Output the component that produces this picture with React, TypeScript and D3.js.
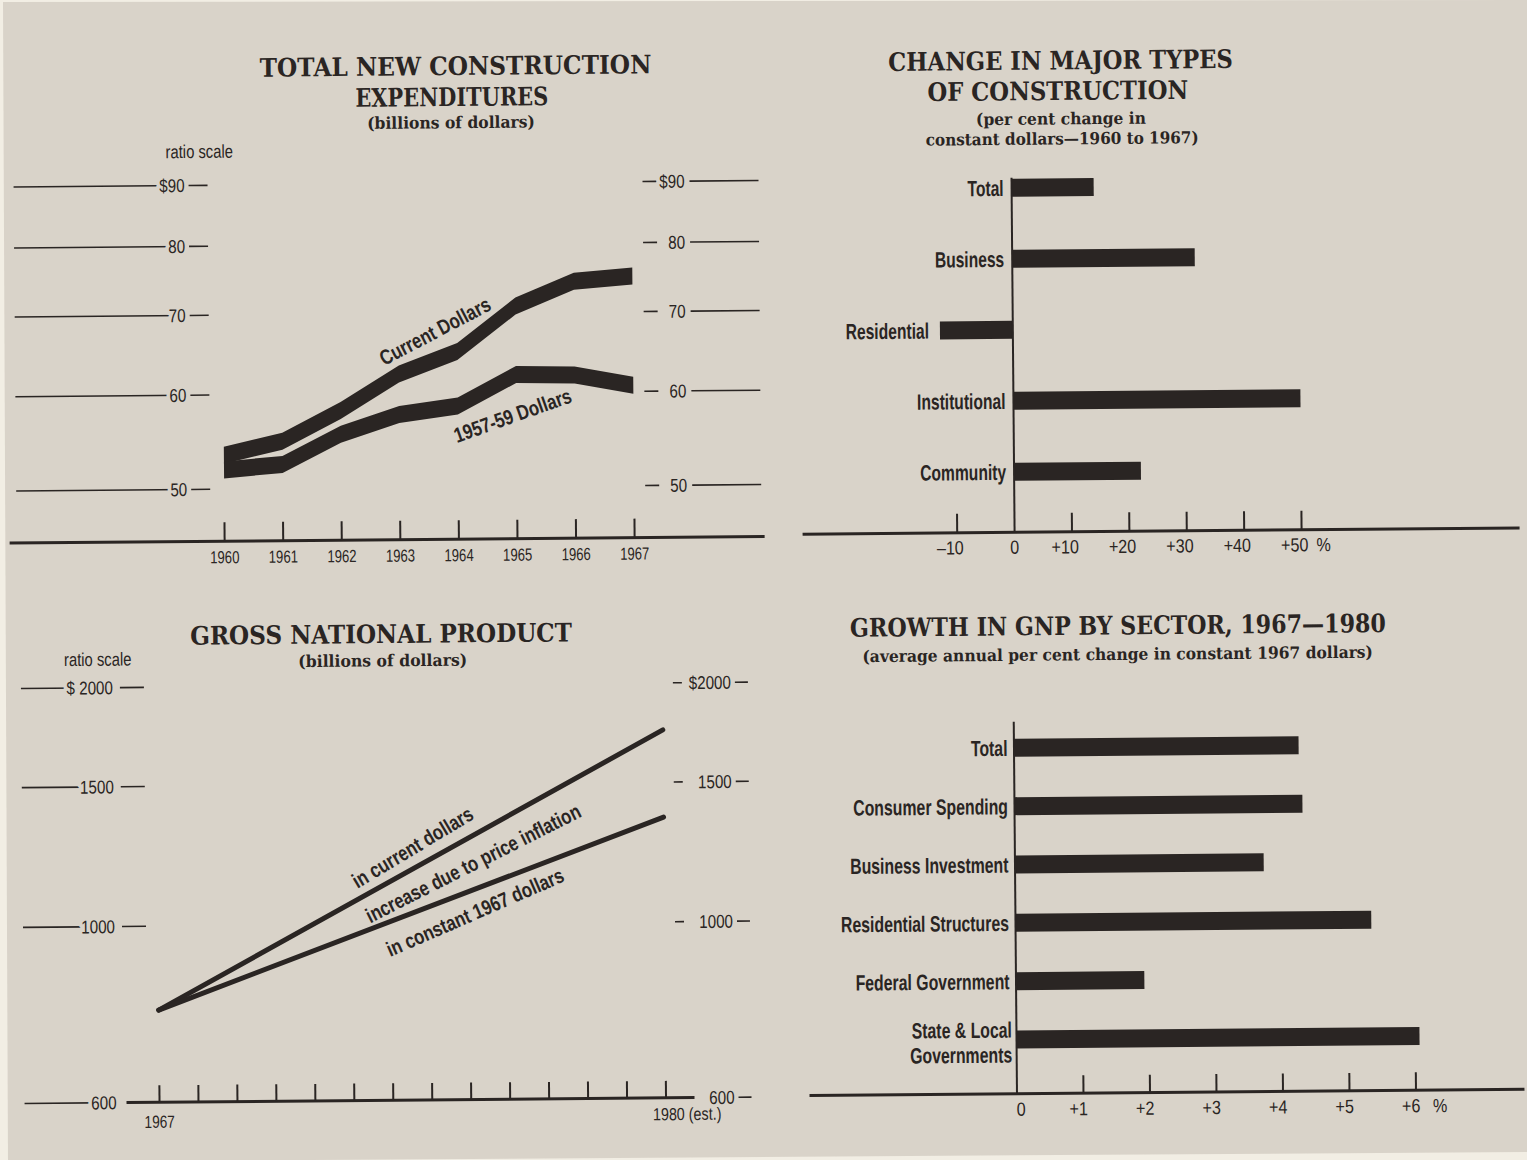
import React, { useLayoutEffect, useRef, useState } from 'react';
import * as d3 from 'd3';

// ---------- data ----------
// Panel 1: total new construction expenditures (billions, ratio scale)
const constructionYears = [1960, 1961, 1962, 1963, 1964, 1965, 1966, 1967];
const currentDollars = [53.4, 54.8, 58.1, 62.3, 65.0, 70.9, 74.3, 75.0];
const constantDollars = [51.9, 52.4, 55.5, 57.6, 58.5, 62.1, 62.0, 60.7];
const constructionTicks = [50, 60, 70, 80, 90];
const constructionTickLabels = ['50', '60', '70', '80', '$90'];

// Panel 2: change in major types of construction (%)
const typeCategories = ['Total', 'Business', 'Residential', 'Institutional', 'Community'];
const typeChanges = [14.3, 31.8, -12.7, 50.0, 22.1];
const typeTicks = [-10, 0, 10, 20, 30, 40, 50];
const typeTickLabels = ['\u201310', '0', '+10', '+20', '+30', '+40', '+50'];

// Panel 3: gross national product (billions, ratio scale)
const gnpYears = [1967, 1980];
const gnpCurrent = [784, 1745];
const gnpConstant = [784, 1355];
const gnpTicks = [600, 1000, 1500, 2000];
const gnpLeftLabels = ['600', '1000', '1500', '$ 2000'];
const gnpRightLabels = ['600', '1000', '1500', '$2000'];
const gnpTickYears = [1967, 1968, 1969, 1970, 1971, 1972, 1973, 1974, 1975, 1976, 1977, 1978, 1979, 1980];

// Panel 4: growth in GNP by sector 1967-1980 (% per year)
const sectorCategories = ['Total', 'Consumer Spending', 'Business Investment', 'Residential Structures', 'Federal Government', 'State & Local|Governments'];
const sectorGrowth = [4.28, 4.33, 3.74, 5.35, 1.93, 6.06];
const sectorTicks = [0, 1, 2, 3, 4, 5, 6];
const sectorTickLabels = ['0', '+1', '+2', '+3', '+4', '+5', '+6'];

// ---------- style ----------
const W = 1527;
const H = 1160;
const BG = '#d9d3c9';
const PAPER = '#f2eee4';
const INK = '#2a2523';
const SANS = '"Liberation Sans", Arial, sans-serif';
const SERIF = '"DejaVu Serif", "Liberation Serif", serif';
const TITLE = 25.5;
const SUB = 16.5;

type CTProps = {
  x: number; y: number; size: number; sx?: number; anchor?: string; weight?: string | number;
  rotate?: number; halo?: boolean; dy?: string; children: React.ReactNode;
};
function CText({ x, y, size, sx = 0.75, anchor = 'start', weight = 'normal', rotate = 0, halo = false, dy, children }: CTProps) {
  return (
    <g transform={`translate(${x},${y}) rotate(${rotate}) scale(${sx},1)`}>
      <text x={0} y={0} dy={dy} textAnchor={anchor as any} fontFamily={SANS} fontSize={size} fontWeight={weight as any}
        fill={INK} stroke={halo ? BG : 'none'} strokeWidth={halo ? 9 : 0} strokeLinejoin="round"
        style={{ paintOrder: 'stroke' }}>{children}</text>
    </g>
  );
}

// Serif title line, horizontally scaled so that it spans `len` pixels.
function Title({ x, y, len, size, children }: { x: number; y: number; len: number; size: number; children: React.ReactNode }) {
  const ref = useRef<SVGTextElement>(null);
  const [k, setK] = useState(1);
  useLayoutEffect(() => {
    if (ref.current) {
      const w = ref.current.getComputedTextLength();
      if (w > 0) setK(len / w);
    }
  }, [len, size]);
  return (
    <g transform={`translate(${x},${y}) scale(${k},1)`}>
      <text ref={ref} x={0} y={0} textAnchor="middle" fontFamily={SERIF} fontWeight="bold" fontSize={size} fill={INK}>{children}</text>
    </g>
  );
}

function ConstructionPanel() {
  const x = d3.scaleLinear().domain([1960, 1967]).range([225, 635]);
  const y = d3.scaleLog().domain([50, 90]).range([484.5, 180.5]);
  const half = 8.5;
  const band = (vals: number[]) =>
    d3.area<number>()
      .x((_, i) => x(constructionYears[i]))
      .y0((d) => y(d) + half)
      .y1((d) => y(d) - half)(vals) || '';
  const axisY = 536.5;
  return (
    <g>
      <Title x={460} y={72.3} len={392} size={TITLE}>TOTAL NEW CONSTRUCTION</Title>
      <Title x={456} y={103.3} len={193} size={TITLE}>EXPENDITURES</Title>
      <Title x={455} y={125.5} len={168} size={SUB}>(billions of dollars)</Title>
      <CText x={203} y={153} size={18.5} sx={0.8} anchor="middle">ratio scale</CText>
      {constructionTicks.map((t, i) => (
        <g key={t}>
          <line x1={17} x2={188} y1={y(t)} y2={y(t)} stroke={INK} strokeWidth={1.6} />
          <line x1={192} x2={211} y1={y(t)} y2={y(t)} stroke={INK} strokeWidth={1.6} />
          <CText x={188} y={y(t) + 6.5} size={18.5} sx={0.82} anchor="end" halo>{constructionTickLabels[i]}</CText>
          <line x1={646} x2={660} y1={y(t)} y2={y(t)} stroke={INK} strokeWidth={1.6} />
          <line x1={693} x2={762} y1={y(t)} y2={y(t)} stroke={INK} strokeWidth={1.6} />
          <CText x={688} y={y(t) + 6.5} size={18.5} sx={0.82} anchor="end" halo>{constructionTickLabels[i]}</CText>
        </g>
      ))}
      <path d={band(currentDollars)} fill={INK} />
      <path d={band(constantDollars)} fill={INK} />
      <CText x={437} y={328} size={21} sx={0.8} weight="bold" anchor="middle" rotate={-27.2} dy="0.36em">Current Dollars</CText>
      <CText x={514} y={413} size={21} sx={0.8} weight="bold" anchor="middle" rotate={-19} dy="0.36em">1957-59 Dollars</CText>
      <line x1={10} x2={765} y1={axisY} y2={axisY} stroke={INK} strokeWidth={3} />
      {constructionYears.map((yr) => (
        <g key={yr}>
          <line x1={x(yr)} x2={x(yr)} y1={axisY - 19} y2={axisY} stroke={INK} strokeWidth={2} />
          <CText x={x(yr)} y={558.5} size={17.5} sx={0.75} anchor="middle">{yr}</CText>
        </g>
      ))}
    </g>
  );
}

function TypesPanel() {
  const x = d3.scaleLinear().domain([0, 50]).range([1015, 1302]);
  const y = d3.scalePoint<string>().domain(typeCategories).range([190, 474]);
  const axisY = 534.5;
  const bh = 18;
  return (
    <g>
      <Title x={1065} y={72} len={345} size={TITLE}>CHANGE IN MAJOR TYPES</Title>
      <Title x={1062} y={102.5} len={261} size={TITLE}>OF CONSTRUCTION</Title>
      <Title x={1065} y={127} len={170} size={SUB}>(per cent change in</Title>
      <Title x={1066} y={147} len={273} size={SUB}>constant dollars{'\u2014'}1960 to 1967)</Title>
      {typeCategories.map((c, i) => {
        const v = typeChanges[i];
        const cy = y(c) as number;
        const labelX = Math.min(x(0), x(v)) - 8;
        return (
          <g key={c}>
            <rect x={Math.min(x(0), x(v))} y={cy - bh / 2} width={Math.abs(x(v) - x(0))} height={bh} fill={INK} />
            <CText x={v < 0 ? labelX - 3 : 1007} y={cy + 8} size={22} sx={0.71} weight="bold" anchor="end">{c}</CText>
          </g>
        );
      })}
      <line x1={x(0)} x2={x(0)} y1={180} y2={axisY} stroke={INK} strokeWidth={2} />
      <line x1={803} x2={1520} y1={axisY} y2={axisY} stroke={INK} strokeWidth={3} />
      {typeTicks.map((t, i) => (
        <g key={t}>
          {t !== 0 && <line x1={x(t)} x2={x(t)} y1={axisY - 19} y2={axisY} stroke={INK} strokeWidth={2} />}
          <CText x={x(t) + (t === 0 ? 0 : -7)} y={556} size={19} sx={0.85} anchor="middle">{typeTickLabels[i]}</CText>
        </g>
      ))}
      <CText x={x(50) + 22} y={556} size={19} sx={0.85} anchor="middle">%</CText>
    </g>
  );
}

function GnpPanel() {
  const x = d3.scaleLinear().domain([1967, 1980]).range([155, 661.5]);
  const y = d3.scaleLog().domain([600, 2000]).range([1097, 682]);
  const line = d3.line<number>().x((_, i) => x(gnpYears[i])).y((d) => y(d));
  const axisY = y(600);
  return (
    <g>
      <Title x={380.5} y={639.7} len={382} size={TITLE}>GROSS NATIONAL PRODUCT</Title>
      <Title x={382} y={663} len={169} size={SUB}>(billions of dollars)</Title>
      <CText x={97} y={660} size={18.5} sx={0.8} anchor="middle">ratio scale</CText>
      {gnpTicks.map((t, i) => (
        <g key={t}>
          <line x1={20} x2={112} y1={y(t)} y2={y(t)} stroke={INK} strokeWidth={1.6} />
          {t !== 600 && <line x1={119} x2={143} y1={y(t)} y2={y(t)} stroke={INK} strokeWidth={1.6} />}
          <CText x={112} y={y(t) + 6.5} size={18.5} sx={0.82} anchor="end" halo>{gnpLeftLabels[i]}</CText>
          {t !== 600 && <line x1={672} x2={681} y1={y(t)} y2={y(t)} stroke={INK} strokeWidth={1.6} />}
          <line x1={734} x2={747} y1={y(t)} y2={y(t)} stroke={INK} strokeWidth={1.6} />
          <CText x={730} y={y(t) + 6.5} size={18.5} sx={0.82} anchor="end">{gnpRightLabels[i]}</CText>
        </g>
      ))}
      <path d={line(gnpCurrent) || ''} fill="none" stroke={INK} strokeWidth={5} strokeLinecap="round" strokeLinejoin="round" />
      <path d={line(gnpConstant) || ''} fill="none" stroke={INK} strokeWidth={5} strokeLinecap="round" strokeLinejoin="round" />
      <CText x={410} y={844} size={21} sx={0.8} weight="bold" anchor="middle" rotate={-30.5} dy="0.36em">in current dollars</CText>
      <CText x={470.5} y={860.5} size={21} sx={0.8} weight="bold" anchor="middle" rotate={-26.3} dy="0.36em">increase due to price inflation</CText>
      <CText x={472} y={909.5} size={21} sx={0.8} weight="bold" anchor="middle" rotate={-23} dy="0.36em">in constant 1967 dollars</CText>
      <line x1={122} x2={690} y1={axisY} y2={axisY} stroke={INK} strokeWidth={3} />
      {gnpTickYears.map((yr) => (
        <line key={yr} x1={x(yr)} x2={x(yr)} y1={axisY - 17} y2={axisY} stroke={INK} strokeWidth={2} />
      ))}
      <CText x={x(1967)} y={1122.5} size={17.5} sx={0.78} anchor="middle">1967</CText>
      <CText x={x(1980) + 21} y={1119.3} size={17.5} sx={0.82} anchor="middle">1980 (est.)</CText>
    </g>
  );
}

function SectorPanel() {
  const x = d3.scaleLinear().domain([0, 6]).range([1012.5, 1411.5]);
  const y = d3.scalePoint<string>().domain(sectorCategories).range([750, 1041.7]);
  const axisY = 1096;
  const bh = 18;
  return (
    <g>
      <Title x={1117.5} y={637.5} len={536} size={TITLE}>GROWTH IN GNP BY SECTOR, 1967{'\u2014'}1980</Title>
      <Title x={1117} y={663} len={511} size={SUB}>(average annual per cent change in constant 1967 dollars)</Title>
      {sectorCategories.map((c, i) => {
        const cy = y(c) as number;
        const parts = c.split('|');
        return (
          <g key={c}>
            <rect x={x(0)} y={cy - bh / 2} width={x(sectorGrowth[i]) - x(0)} height={bh} fill={INK} />
            {parts.length === 1 ? (
              <CText x={1006} y={cy + 8} size={22} sx={0.72} weight="bold" anchor="end">{c}</CText>
            ) : (
              parts.map((p, j) => (
                <CText key={p} x={1008} y={cy - 2 + j * 25} size={22} sx={0.72} weight="bold" anchor="end">{p}</CText>
              ))
            )}
          </g>
        );
      })}
      <line x1={x(0)} x2={x(0)} y1={724} y2={axisY} stroke={INK} strokeWidth={2} />
      <line x1={805} x2={1520} y1={axisY} y2={axisY} stroke={INK} strokeWidth={3} />
      {sectorTicks.map((t, i) => (
        <g key={t}>
          {t !== 0 && <line x1={x(t)} x2={x(t)} y1={axisY - 18} y2={axisY} stroke={INK} strokeWidth={2} />}
          <CText x={x(t) + (t === 0 ? 4 : -5)} y={1118} size={19} sx={0.85} anchor="middle">{sectorTickLabels[i]}</CText>
        </g>
      ))}
      <CText x={x(6) + 24} y={1118} size={19} sx={0.85} anchor="middle">%</CText>
    </g>
  );
}

export default function App() {
  return (
    <svg width={W} height={H} viewBox={`0 0 ${W} ${H}`} style={{ position: 'absolute', left: 0, top: 0, display: 'block' }}>
      <rect x={0} y={0} width={W} height={H} fill={PAPER} />
      <polygon points={`3,2 ${W},0 ${W},1152 8,1162`} fill={BG} />
      <g transform="rotate(-0.5 763 580)">
        <ConstructionPanel />
        <TypesPanel />
        <GnpPanel />
        <SectorPanel />
      </g>
    </svg>
  );
}
